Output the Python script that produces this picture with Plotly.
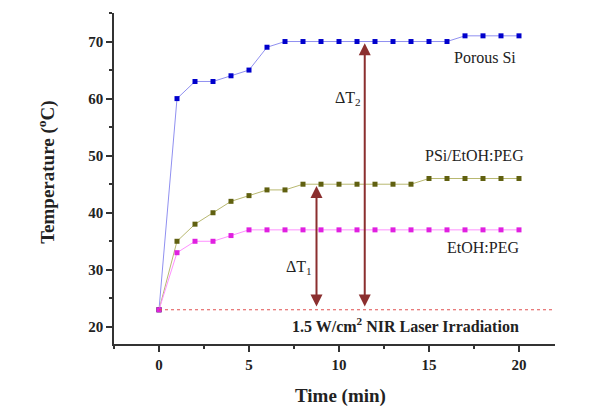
import plotly.graph_objects as go

time = list(range(0, 21))
porous_si = [23, 60, 63, 63, 64, 65, 69, 70, 70, 70, 70, 70, 70, 70, 70, 70, 70, 71, 71, 71, 71]
psi_etoh_peg = [23, 35, 38, 40, 42, 43, 44, 44, 45, 45, 45, 45, 45, 45, 45, 46, 46, 46, 46, 46, 46]
etoh_peg = [23, 33, 35, 35, 36, 37, 37, 37, 37, 37, 37, 37, 37, 37, 37, 37, 37, 37, 37, 37, 37]
baseline = 23
dT1_x, dT1_top = 8.75, 45
dT2_x, dT2_top = 11.43, 70

FONT = "Liberation Serif, Times New Roman, serif"
fig = go.Figure()

series = [
    ("Porous Si", porous_si, "#9090f0", "#0000cc"),
    ("PSi/EtOH:PEG", psi_etoh_peg, "#b8b870", "#606010"),
    ("EtOH:PEG", etoh_peg, "#ff90ff", "#e020e0"),
]
for name, ys, lc, mc in series:
    fig.add_trace(go.Scatter(x=time, y=ys, mode="lines+markers", name=name,
                             line=dict(color=lc, width=1),
                             marker=dict(symbol="square", size=5, color=mc)))

# baseline dashed
fig.add_trace(go.Scatter(x=[0, 22], y=[baseline, baseline], mode="lines",
                         line=dict(color="#e05050", width=1, dash="dot"),
                         hoverinfo="skip"))

arrow_color = "#8b2f2f"
for xa, top in [(dT1_x, dT1_top), (dT2_x, dT2_top)]:
    fig.add_annotation(x=xa, y=top - 0.3, ax=xa, ay=baseline + 0.3,
                       xref="x", yref="y", axref="x", ayref="y",
                       showarrow=True, arrowhead=2, startarrowhead=2,
                       arrowside="end+start", arrowsize=1.2, arrowwidth=2,
                       arrowcolor=arrow_color, text="")

texts = [
    (18.13, 67.2, "Porous Si", 16, False),
    (17.53, 50.0, "PSi/EtOH:PEG", 16, False),
    (18.02, 33.9, "EtOH:PEG", 16, False),
    (10.49, 60.0, "ΔT<sub>2</sub>", 16, False),
    (7.75, 30.35, "ΔT<sub>1</sub>", 16, False),
    (13.68, 20.35, "1.5 W/cm<sup>2</sup> NIR Laser Irradiation", 16, True),
]
for x, y, t, s, b in texts:
    fig.add_annotation(x=x, y=y, xref="x", yref="y", showarrow=False,
                       text=f"<b>{t}</b>" if b else t,
                       font=dict(family=FONT, size=s, color="#222222"))

# axis titles
fig.add_annotation(x=0.514, y=-0.157, xref="paper", yref="paper", showarrow=False,
                   xanchor="center", yanchor="middle",
                   text="<b>Time (min)</b>", font=dict(family=FONT, size=19, color="#222"))
fig.add_annotation(x=-0.152, y=0.52, xref="paper", yref="paper", showarrow=False, textangle=-90,
                   xanchor="center", yanchor="middle",
                   text="<b>Temperature (<sup>o</sup>C)</b>", font=dict(family=FONT, size=19, color="#222"))

fig.update_layout(
    width=600, height=420, showlegend=False,
    plot_bgcolor="white", paper_bgcolor="white",
    margin=dict(l=106, r=53, t=5, b=84),
    font=dict(family=FONT, color="#222222"),
)
axis_common = dict(ticks="outside", ticklen=6, tickwidth=1.5, tickcolor="#333",
                   showline=True, linecolor="#333", linewidth=1.5, showgrid=False, zeroline=False,
                   automargin=False,
                   tickfont=dict(family=FONT, size=15, color="#222", weight="bold"))
fig.update_xaxes(range=[-2.5, 22], tickvals=[0, 5, 10, 15, 20],
                 minor=dict(ticks="outside", ticklen=3, tickcolor="#333", dtick=2.5, tick0=-2.5),
                 **axis_common)
fig.update_yaxes(range=[17, 75], tickvals=[20, 30, 40, 50, 60, 70],
                 minor=dict(ticks="outside", ticklen=3, tickcolor="#333", dtick=5, tick0=15),
                 **axis_common)

fig.write_html("out.html")
